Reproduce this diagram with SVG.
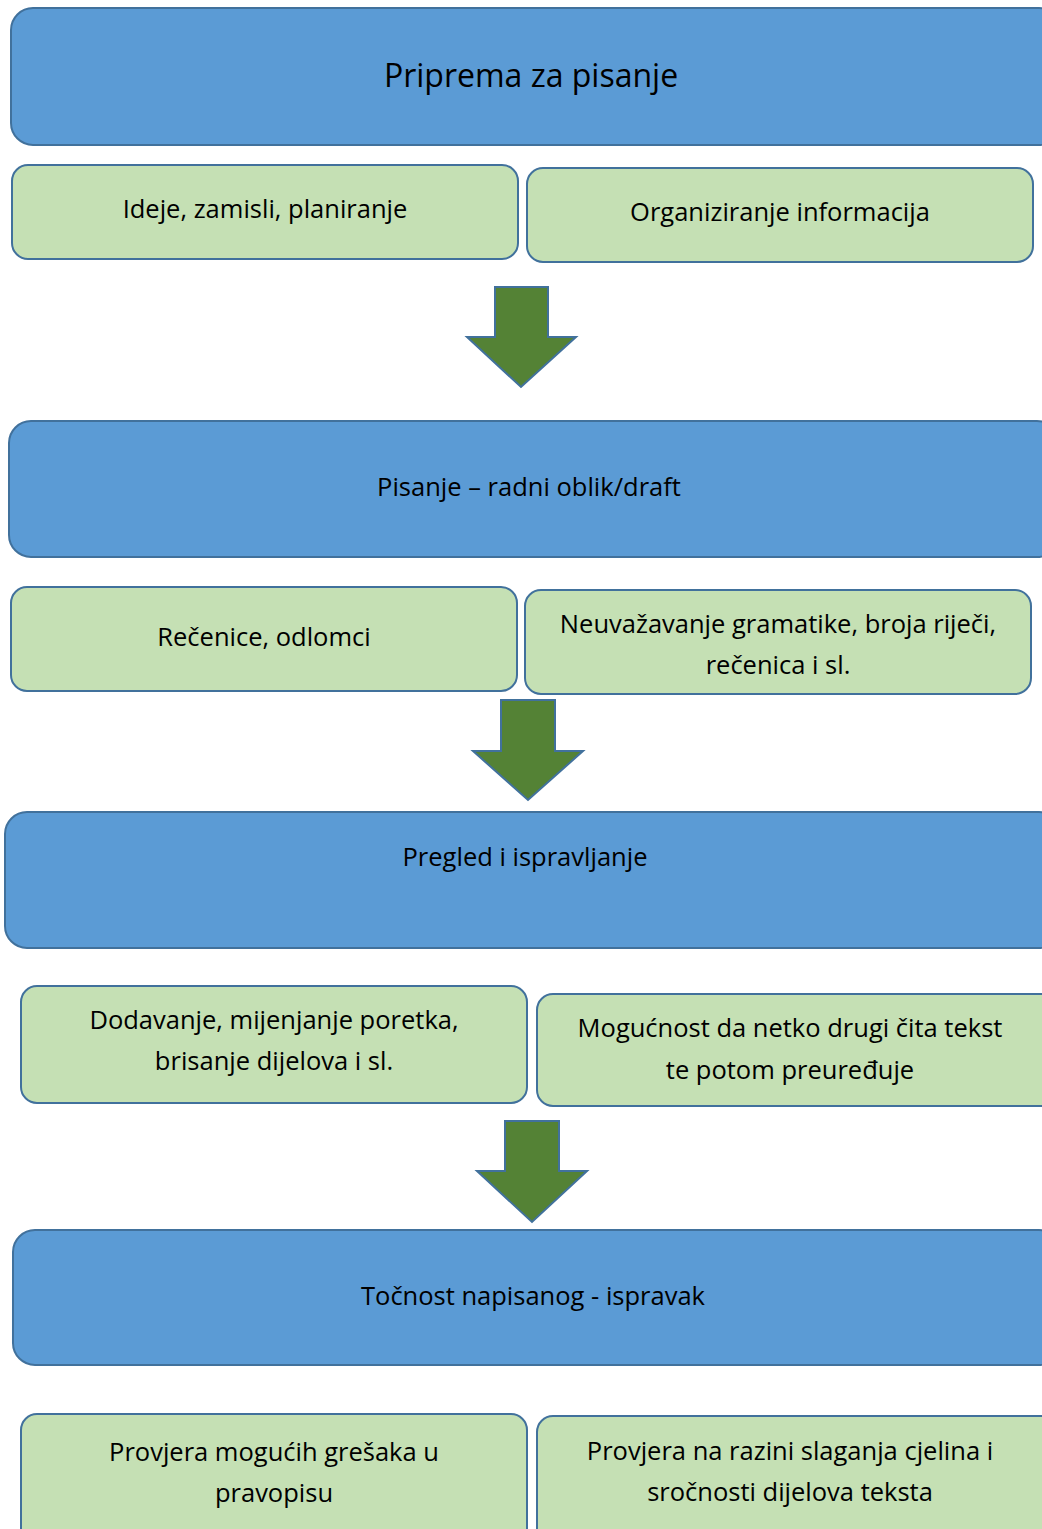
<svg xmlns="http://www.w3.org/2000/svg" width="1042" height="1529" viewBox="0 0 1042 1529">
  <style>
    .stage { fill: #5B9BD5; stroke: #41719C; stroke-width: 2; }
    .step { fill: #C5E0B4; stroke: #41719C; stroke-width: 2; }
    .down { fill: #548235; stroke: #41719C; stroke-width: 2; stroke-linejoin: miter; }
    text { font-family: "Open Sans", "Noto Sans", "Liberation Sans", sans-serif; fill: #000; text-anchor: middle; font-size: 25.5px; font-variant-ligatures: none; }
    .big { font-size: 32px; }
  </style>
  <rect width="1042" height="1529" fill="#fff"/>

  <!-- Stage 1 -->
  <g id="priprema">
    <rect class="stage" x="11" y="8" width="1050" height="137" rx="22"/>
    <text class="big" x="531" y="87">Priprema za pisanje</text>
  </g>
  <g id="ideje">
    <rect class="step" x="12" y="165" width="506" height="94" rx="16"/>
    <text x="265" y="218">Ideje, zamisli, planiranje</text>
  </g>
  <g id="organiziranje">
    <rect class="step" x="527" y="168" width="506" height="94" rx="16"/>
    <text x="780" y="221">Organiziranje informacija</text>
  </g>

  <!-- Stage 2 -->
  <g id="pisanje">
    <rect class="stage" x="9" y="421" width="1050" height="136" rx="22"/>
    <text x="529" y="496">Pisanje – radni oblik/draft</text>
  </g>
  <g id="recenice">
    <rect class="step" x="11" y="587" width="506" height="104" rx="16"/>
    <text x="264" y="646">Rečenice, odlomci</text>
  </g>
  <g id="neuvazavanje">
    <rect class="step" x="525" y="590" width="506" height="104" rx="16"/>
    <text x="778" y="633">Neuvažavanje gramatike, broja riječi,</text>
    <text x="778" y="674">rečenica i sl.</text>
  </g>

  <!-- Stage 3 -->
  <g id="pregled">
    <rect class="stage" x="5" y="812" width="1056" height="136" rx="22"/>
    <text x="525" y="866">Pregled i ispravljanje</text>
  </g>
  <g id="dodavanje">
    <rect class="step" x="21" y="986" width="506" height="117" rx="16"/>
    <text x="274" y="1029">Dodavanje, mijenjanje poretka,</text>
    <text x="274" y="1070">brisanje dijelova i sl.</text>
  </g>
  <g id="mogucnost">
    <rect class="step" x="537" y="994" width="520" height="112" rx="16"/>
    <text x="790" y="1037">Mogućnost da netko drugi čita tekst</text>
    <text x="790" y="1079">te potom preuređuje</text>
  </g>

  <!-- Stage 4 -->
  <g id="tocnost">
    <rect class="stage" x="13" y="1230" width="1048" height="135" rx="22"/>
    <text x="533" y="1305">Točnost napisanog - ispravak</text>
  </g>
  <g id="pravopis">
    <rect class="step" x="21" y="1414" width="506" height="140" rx="16"/>
    <text x="274" y="1461">Provjera mogućih grešaka u</text>
    <text x="274" y="1502">pravopisu</text>
  </g>
  <g id="srocnost">
    <rect class="step" x="537" y="1416" width="520" height="140" rx="16"/>
    <text x="790" y="1460">Provjera na razini slaganja cjelina i</text>
    <text x="790" y="1501">sročnosti dijelova teksta</text>
  </g>

  <!-- Flow arrows between stages -->
  <g id="connectors">
    <polygon class="down" points="495,287 548,287 548,337 576,337 521,387 467,337 495,337"/>
    <polygon class="down" points="501,700 555,700 555,751 583,751 528,800 473,751 501,751"/>
    <polygon class="down" points="505,1121 559,1121 559,1171 587,1171 532,1222 477,1171 505,1171"/>
  </g>
</svg>
